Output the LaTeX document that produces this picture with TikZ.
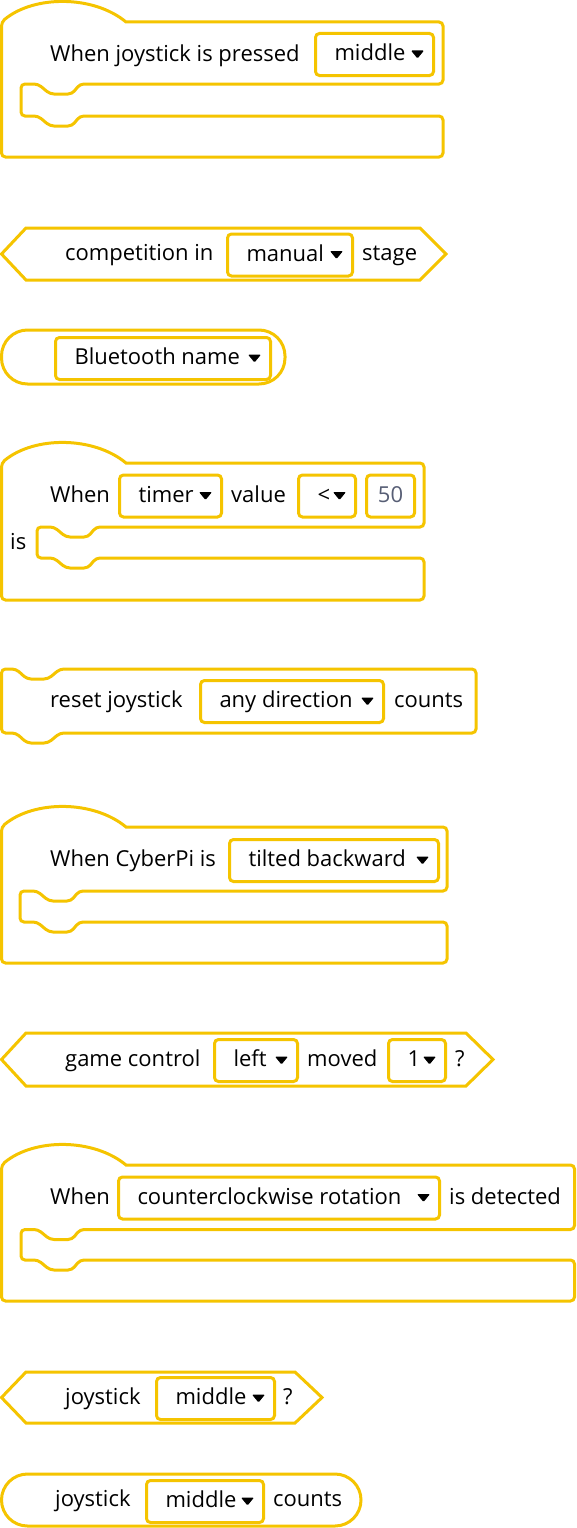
\documentclass[tikz,border=0pt]{standalone}
\usepackage{fontspec}
\setmainfont{Open Sans}
\definecolor{mbyellow}{RGB}{245,196,0}
\definecolor{numgray}{RGB}{87,94,117}
\newcommand{\hatC}[6]{%
  \draw[blk] (126,#1) -- (#2,#1) -- (#2,#3) -- (#4+59,#3) -- (#4+51,#3+10) -- (#4+29,#3+10) -- (#4+17,#3) -- (#4,#3)
    -- (#4,#5) -- (#4+17,#5) -- (#4+29,#5+10) -- (#4+51,#5+10) -- (#4+59,#5) -- (#2,#5) -- (#2,#6) -- (1.5,#6)
    -- (1.5,#1) [sharp corners] .. controls (34,#1-27) and (93.5,#1-27) .. (126,#1) -- cycle;}

\begin{document}
\begin{tikzpicture}[x=1pt,y=-1pt,
  blk/.style={draw=mbyellow, line width=3pt, fill=white, rounded corners=4pt},
  hexblk/.style={blk, sharp corners},
  lbl/.style={anchor=base west, inner sep=0pt, font=\fontsize{22}{26}\selectfont},
  dd/.style={draw=mbyellow, line width=3pt, fill=white, rounded corners=4pt, anchor=north west,
    inner xsep=19pt, inner ysep=0pt, minimum height=42pt, align=flush left, text height=15pt, text depth=3pt,
    font=\fontsize{22}{26}\selectfont},
  numbox/.style={dd, align=center, inner xsep=0pt, minimum width=48pt, text=numgray},
  ddtri/.pic={\fill[black, rounded corners=1pt] (-6.5,-4) -- (6.5,-4) -- (0,4) -- cycle;}]
  \useasboundingbox (0,0) rectangle (576,1528);

  \hatC{22}{443}{84}{21}{116}{157}
  \node[lbl] (joypress) at (50,61.5) {When joystick is pressed};
  \node[dd, text width=80pt] (ddjoy) at (314,32) {middle};

  \draw[hexblk] (1.5,254) -- (26,228) -- (420,228) -- (446,254) -- (420,280) -- (26,280) -- cycle;
  \node[lbl] (compin) at (65,260.5) {competition in};
  \node[dd, text width=87pt] (ddstage) at (226,232.5) {manual};
  \node[lbl] (compstage) at (362,260.5) {stage};

  \draw[blk, rounded corners=26pt] (1.5,330) rectangle (285,384);
  \node[dd, text width=177pt] (ddbt) at (54,336) {Bluetooth name};

  \hatC{463}{424}{527}{37}{558}{600}
  \node[lbl] (timerwhen) at (50,502.5) {When};
  \node[dd, text width=64pt] (ddtimer) at (118,473.5) {timer};
  \node[lbl] (timervalue) at (231,502.5) {value};
  \node[dd, text width=19pt] (ddcomp) at (297,473.5) {<};
  \node[numbox] (numval) at (365,473.5) {50};
  \node[lbl] (timeris) at (10,549) {is};

  \draw[blk] (1.5,669) -- (16,669) -- (27,679) -- (48,679) -- (60,669) -- (476,669) -- (476,733)
    -- (60,733) -- (48,743) -- (27,743) -- (16,733) -- (1.5,733) -- cycle;
  \node[lbl] (resetjoy) at (50,707.5) {reset joystick};
  \node[dd, text width=145pt] (dddir) at (199,679) {any direction};
  \node[lbl] (resetcounts) at (394,707.5) {counts};

  \hatC{827}{447}{891}{20}{922}{963}
  \node[lbl] (tiltwhen) at (50,866.5) {When CyberPi is};
  \node[dd, text width=171pt] (ddtilt) at (228,838) {tilted backward};

  \draw[hexblk] (1.5,1059.5) -- (26,1033) -- (466,1033) -- (493,1059.5) -- (466,1086) -- (26,1086) -- cycle;
  \node[lbl] (gamectl) at (65,1066.5) {game control};
  \node[dd, text width=45pt] (ddside) at (213,1038) {left};
  \node[lbl] (gamemoved) at (307,1066.5) {moved};
  \node[dd, text width=19pt] (ddtimes) at (387,1038) {1};
  \node[lbl] (gameq) at (455,1066.5) {?};

  \hatC{1165}{574.5}{1229.5}{21}{1260}{1301}
  \node[lbl] (rotwhen) at (50,1204.5) {When};
  \node[dd, text width=283pt] (ddrot) at (117,1175.5) {counterclockwise rotation};
  \node[lbl] (rotdet) at (449,1204.5) {is detected};

  \draw[hexblk] (1.5,1397.5) -- (26,1372) -- (295,1372) -- (322,1397.5) -- (295,1423) -- (26,1423) -- cycle;
  \node[lbl] (joyq) at (65,1404.5) {joystick};
  \node[dd, text width=80pt] (ddjoyq) at (155,1376) {middle};
  \node[lbl] (joyqmark) at (283,1404.5) {?};

  \draw[blk, rounded corners=26pt] (1.5,1474) rectangle (361,1526);
  \node[lbl] (joycnt) at (55,1506.5) {joystick};
  \node[dd, text width=79pt] (ddjoycnt) at (145,1479) {middle};
  \node[lbl] (joycounts) at (273,1506.5) {counts};

  \foreach \n in {ddjoy,ddstage,ddbt,ddtimer,ddcomp,dddir,ddtilt,ddside,ddtimes,ddrot,ddjoyq,ddjoycnt}
    \pic at ([xshift=-17.5pt]\n.east) {ddtri};
\end{tikzpicture}
\end{document}
